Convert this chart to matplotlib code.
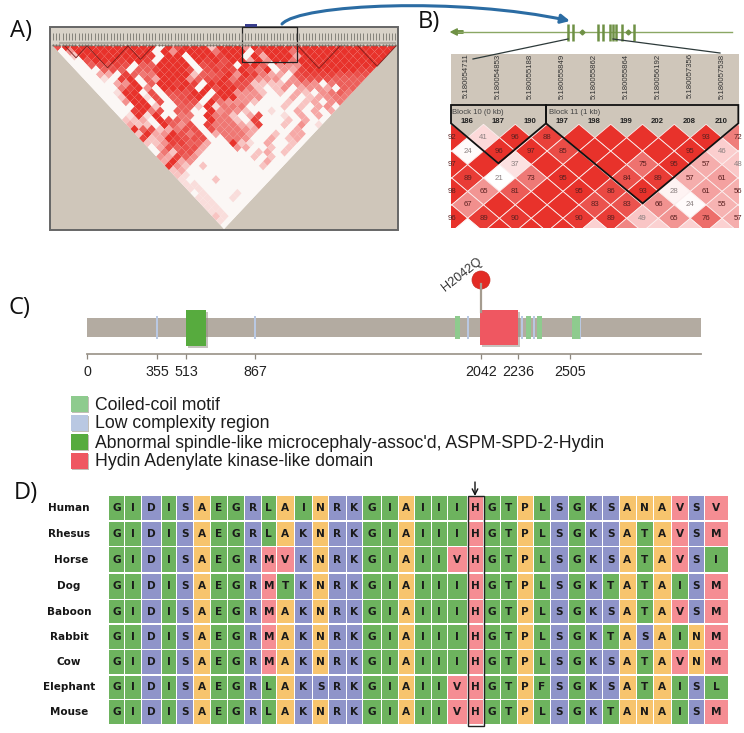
import numpy as np
import matplotlib
matplotlib.use('Agg')
from matplotlib import pyplot as plt
from matplotlib.collections import PolyCollection
from matplotlib.colors import LinearSegmentedColormap
from matplotlib.patches import FancyArrowPatch, Rectangle, Circle, Polygon
from matplotlib.path import Path

# panel A, LD strength 0-9 per row of the triangle, read by eye
ld_rows = [
    '7999999999 9909799929 9949999989 9999999999',
    '0499999999 9094999959 9907999599 999999999',
    '0299999999 8099099989 9093999399 99999999',
    '0079998998 0999098979 9394995999 9999999',
    '0067787066 9999078780 9960444999 999999',
    '0006760668 9997078879 7590438999 99988',
    '0033086559 9992667949 8533078888 7777',
    '0010890639 9946779587 4440477776 666',
    '0003490699 8980998772 2224454056 66',
    '0005894099 9809799752 0240344306 6',
    '0019907077 7990994442 0203204565',
    '0029917067 8907994440 003023455',
    '0049907067 7095444200 02023045',
    '0009920066 2915550000 2020340',
    '0089570660 0945420010 030303',
    '0191900550 9552037001 03030',
    '2230976500 9552080002 0300',
    '3220964708 5553280020 401',
    '9672357707 5554300003 00',
    '2934975703 5553002033 0',
    '8239877700 5540030230',
    '2248866300 921030020',
    '0376773000 43002020',
    '0527730000 0023020',
    '4386400000 020200',
    '3934000000 00300',
    '9420200000 0200',
    '2300000000 000',
    '2100000000 00',
    '1000200000 0',
    '1100000000',
    '110000000',
    '01000100',
    '1100100',
    '110000',
    '11000',
    '1100',
    '210',
    '10',
    '0',
]
ld_blocks = [(65, 87), (87, 128), (128, 153), (298, 340), (358, 396)]

# panel B
exon_pos = [568, 573, 598, 603, 610, 613, 616, 622, 634]
snp_names = ['5:180054711', '5:180054853', '5:180055188', '5:180055849', '5:180055862',
             '5:180055864', '5:180056192', '5:180057356', '5:180057538']
snp_ids = ['186', '187', '190', '197', '198', '199', '202', '208', '210']
# 100 = full red with no number printed
dprime_rows = [
    [92, 41, 96, 88, 100, 100, 100, 100, 93, 72],
    [24, 96, 97, 85, 100, 100, 100, 95, 46],
    [97, 100, 37, 100, 100, 100, 75, 95, 57, 48],
    [89, 21, 73, 95, 100, 84, 89, 57, 61],
    [98, 65, 81, 100, 95, 86, 93, 28, 61, 56],
    [67, 100, 100, 100, 83, 83, 66, 24, 55],
    [96, 89, 90, 100, 90, 89, 49, 65, 76, 57],
    [20, 100, 100, 100, 45, 70, 45, 45, 45, 45],
]

# panel C
tick_vals = [0, 355, 513, 867, 2042, 2236, 2505]
tick_x = [87, 157, 186, 255, 481, 518, 570]
low_complex = [157, 255, 468, 522, 534, 580]
coiled = [457, 528, 539, 574]
legend_names = ['Coiled-coil motif', 'Low complexity region',
                "Abnormal spindle-like microcephaly-assoc'd, ASPM-SPD-2-Hydin",
                'Hydin Adenylate kinase-like domain']

# panel D
species = ['Human', 'Rhesus', 'Horse', 'Dog', 'Baboon', 'Rabbit', 'Cow', 'Elephant', 'Mouse']
species_x = [69, 69, 71, 69, 69, 69, 69, 69, 69]
alignment = [
    'GIDISAEGRLAINRKGIAIIIHGTPLSGKSANAVSV',
    'GIDISAEGRLAKNRKGIAIIIHGTPLSGKSATAVSM',
    'GIDISAEGRMVKNRKGIAIIVHGTPLSGKSATAVSI',
    'GIDISAEGRMTKNRKGIAIIIHGTPLSGKTATAISM',
    'GIDISAEGRMAKNRKGIAIIIHGTPLSGKSATAVSM',
    'GIDISAEGRMAKNRKGIAIIIHGTPLSGKTASAINM',
    'GIDISAEGRMAKNRKGIAIIIHGTPLSGKSATAVNM',
    'GIDISAEGRLAKSRKGIAIIVHGTPFSGKSATAISL',
    'GIDISAEGRLAKNRKGIAIIVHGTPLSGKTANAISM',
]
col_edges = [109, 124.7, 142, 162.3, 177.3, 193.7, 210.7, 228, 245.3, 262, 276.7, 295.3, 312.7,
             329.3, 346.7, 363, 381.5, 399.3, 414.5, 431.5, 448, 467.5, 483.5, 500.5, 517.5,
             534, 551, 568.5, 585.5, 602.5, 619.5, 636.5, 654, 671.5, 689, 704.5, 729]
row_edges = [496, 521.7, 547, 573.5, 600, 624.5, 650, 675.5, 700, 725.5]

GRAY = '#cfc6ba'
RED = '#e8322b'
residue_colors = {}
for aa in 'GIELTF':
    residue_colors[aa] = '#6db35e'
for aa in 'DSRK':
    residue_colors[aa] = '#8f94c9'
for aa in 'ANP':
    residue_colors[aa] = '#f7c46d'
for aa in 'MVH':
    residue_colors[aa] = '#f58d93'

plt.rcParams['font.family'] = ['Liberation Sans', 'DejaVu Sans']
fig = plt.figure(figsize=(7.44, 7.33), dpi=100)
ax = fig.add_axes([0, 0, 1, 1])
ax.set_xlim(0, 744)
ax.set_ylim(733, 0)
ax.axis('off')

ld_cmap = LinearSegmentedColormap.from_list('ld', ['#fbf7f5', '#f6a9a7', '#ec605b', RED])

for txt, x, y in [('A)', 10, 31), ('B)', 418, 22), ('C)', 8, 308), ('D)', 14, 493)]:
    ax.text(x, y, txt, fontsize=17, family='Open Sans', va='center', color='#111111')

# ---- A) LD triangle
ax.add_patch(Rectangle((50, 27), 348, 203, fc=GRAY, ec='#666666', lw=1.4))
ax.add_patch(Rectangle((51, 28), 346, 17, fc='#d8d2c8', ec='none'))
comb = np.arange(53, 396, 3.2)
ax.vlines(comb, 33, 40, color='#77756e', lw=0.6)
ax.hlines(42.5, 59, 396, color='#a9a298', lw=1.2)
ax.plot(comb, np.full(len(comb), 44.5), ls='none', marker='.', ms=1.2, color='#6f6a62')

N = len(ld_rows)
dx = (396 - 53) / N
dy = (229 - 46) / N
polys = []
levels = []
ax.add_patch(Polygon([(53, 46), (396, 46), (224, 229)], fc='#fbf7f5', ec='none'))
for k, row in enumerate(ld_rows):
    for i, ch in enumerate(row.replace(' ', '')):
        cx = 53 + (i + k / 2 + 0.5) * dx
        cy = 46 + k * dy + 1
        polys.append([(cx - dx / 2, cy), (cx, cy - dy), (cx + dx / 2, cy), (cx, cy + dy)])
        levels.append(int(ch) / 9)
tri = Polygon([(53, 46), (396, 46), (224, 229)], transform=ax.transData, fc='none', ec='none')
ax.add_patch(tri)
pc = PolyCollection(polys, array=np.array(levels), cmap=ld_cmap, clim=(0, 1), edgecolors='none')
ax.add_collection(pc)
pc.set_clip_path(tri)
for x0, x1 in ld_blocks:
    h = (x1 - x0) / 2 * 1.067
    ax.plot([x0, (x0 + x1) / 2, x1], [46, 46 + h, 46], color='#7a1f1c', lw=0.6)
ax.add_patch(Rectangle((245, 24), 12, 3, fc='#3a3f8f', ec='none'))
ax.add_patch(Rectangle((242, 27), 55, 35, fc='none', ec='#222222', lw=0.9))

verts = [(282, 24), (300, 4), (460, -3), (570, 21)]
curve = Path(verts, [Path.MOVETO, Path.CURVE4, Path.CURVE4, Path.CURVE4])
ax.add_patch(FancyArrowPatch(path=curve, arrowstyle='-|>', mutation_scale=13, lw=2.2,
                             color='#2b6ca3', shrinkA=0, shrinkB=0))

# ---- B) gene track and LD blocks
green = '#6f9145'
ax.plot([458, 732], [32, 32], color='#8aa764', lw=1)
ax.add_patch(FancyArrowPatch((463, 32), (451, 32), arrowstyle='simple', mutation_scale=9,
                             color=green, shrinkA=0, shrinkB=0))
ax.vlines(exon_pos, 24, 41, color=green, lw=1.8)
ax.plot([582, 628], [32, 32], ls='none', marker='D', ms=2.5, color=green)
ax.plot([473, 568], [59, 39], color='#2d3a3a', lw=0.9)
ax.plot([613, 720], [39, 53], color='#2d3a3a', lw=0.9)

ax.add_patch(Rectangle((451, 54), 288, 88, fc=GRAY, ec='none'))
clip = Rectangle((451, 54), 288, 174, transform=ax.transData, fc='none', ec='none')
ax.add_patch(clip)
for j, name in enumerate(snp_names):
    ax.text(466 + j * 32, 76, name, rotation=90, fontsize=5.6, color='#333333',
            ha='center', va='center')

d_cmap = LinearSegmentedColormap.from_list('dp', ['#ffffff', '#fbd0d0', '#f08a88', RED])
half_w = 15.9
half_h = 13.44
for r, vals in enumerate(dprime_rows):
    cy = 137.7 + r * half_h
    for c, v in enumerate(vals):
        cx = (451.7 + half_w * (r % 2)) + c * 2 * half_w
        shade = min(max((v - 22) / 70, 0.0), 1.0)
        p = Polygon([(cx - half_w, cy), (cx, cy - half_h), (cx + half_w, cy), (cx, cy + half_h)],
                    fc=d_cmap(shade), ec='#fbeeee', lw=0.6)
        ax.add_patch(p)
        p.set_clip_path(clip)
        if v < 100 and r < 7:
            col = '#8a7f7f' if v < 50 else '#5a2020'
            t = ax.text(cx, cy, str(v), fontsize=5.6, ha='center', va='center', color=col)
            t.set_clip_path(clip)


def zoom_pts(pts):
    return [(445 + a / 3, 100 + b / 3) for a, b in pts]


ax.add_patch(Polygon(zoom_pts([(18, 70), (18, 15), (303, 15), (303, 70), (160, 190)]),
                     fc='none', ec='#111111', lw=1.3, joinstyle='miter'))
ax.add_patch(Polygon(zoom_pts([(303, 15), (303, 70), (593, 310), (880, 70), (880, 15)]),
                     fc='none', ec='#111111', lw=1.3, joinstyle='miter'))
ax.text(452, 112, 'Block 10 (0 kb)', fontsize=5.6, color='#444444', va='center')
ax.text(549, 112, 'Block 11 (1 kb)', fontsize=5.6, color='#444444', va='center')
for j, sid in enumerate(snp_ids):
    ax.text(466.7 + j * 2 * half_w, 121.7, sid, fontsize=5.6, fontweight='bold',
            color='#222222', ha='center', va='center')

# ---- C) protein domains
ax.add_patch(Rectangle((87, 318), 614, 19, fc='#b3aba1', ec='none'))
for x in low_complex:
    ax.add_patch(Rectangle((x - 1.2, 316), 2.4, 23, fc='#b9c8e2', ec='none'))
for x in coiled:
    ax.add_patch(Rectangle((x - 2.5, 316), 5 if x != 574 else 8, 23, fc='#8ecb8e', ec='none'))
ax.add_patch(Rectangle((188, 312), 20, 36, fc='#8f887e', ec='none', alpha=0.5))
ax.add_patch(Rectangle((186, 310), 20, 36, fc='#57ab3e', ec='none'))
ax.plot([481, 481], [284, 312], color='#a59c8f', lw=1.6)
ax.add_patch(Rectangle((482, 312), 38, 35, fc='#8f887e', ec='none', alpha=0.5))
ax.add_patch(Rectangle((480, 310), 38, 35, fc='#ef5761', ec='none'))
ax.add_patch(Circle((481, 280), 9, fc='#e32b24', ec='#c92a20', lw=0.5))
ax.text(462, 275, 'H2042Q', rotation=38, fontsize=9.2, color='#333333',
        ha='center', va='center', rotation_mode='anchor')

ax.plot([87, 701], [354, 354], color='#a09a90', lw=1.3)
ax.vlines(tick_x, 354, 359, color='#8d877e', lw=0.9)
for x, v in zip(tick_x, tick_vals):
    ax.text(x, 372, str(v), fontsize=10.3, color='#222222', ha='center', va='center')

legend_cols = ['#8ecb8e', '#b9c8e2', '#57ab3e', '#ef5761']
for j, (name, col) in enumerate(zip(legend_names, legend_cols)):
    y0 = 396 + j * 19
    ax.add_patch(Rectangle((72, y0 + 1), 17, 16, fc='#9a9488', ec='none', alpha=0.6))
    ax.add_patch(Rectangle((71, y0), 17, 16, fc=col, ec='none'))
    ax.text(95, y0 + 9, name, fontsize=12.7, color='#1c1c1c', va='center')

# ---- D) alignment
for r, seq in enumerate(alignment):
    y0, y1 = row_edges[r], row_edges[r + 1] - 1.3
    for c, aa in enumerate(seq):
        x0, x1 = col_edges[c], col_edges[c + 1] - 1.0
        ax.add_patch(Rectangle((x0, y0), x1 - x0, y1 - y0, fc=residue_colors[aa], ec='none'))
        ax.text((x0 + x1) / 2, (y0 + y1) / 2, aa, fontsize=7.6, fontweight='bold', family='DejaVu Sans',
                color='#1a1a1a', ha='center', va='center')
    ax.text(species_x[r], (y0 + y1) / 2, species[r], fontsize=7.5, fontweight='bold',
            family='DejaVu Sans', color='#161616', ha='center', va='center')
ax.add_patch(Rectangle((468, 495.5), 15.5, 230, fc='none', ec='#222222', lw=1))
ax.annotate('', xy=(475, 496), xytext=(475, 482),
            arrowprops=dict(arrowstyle='->', color='#111111', lw=1, shrinkA=0, shrinkB=0))

fig.savefig('out.png', dpi=100)
